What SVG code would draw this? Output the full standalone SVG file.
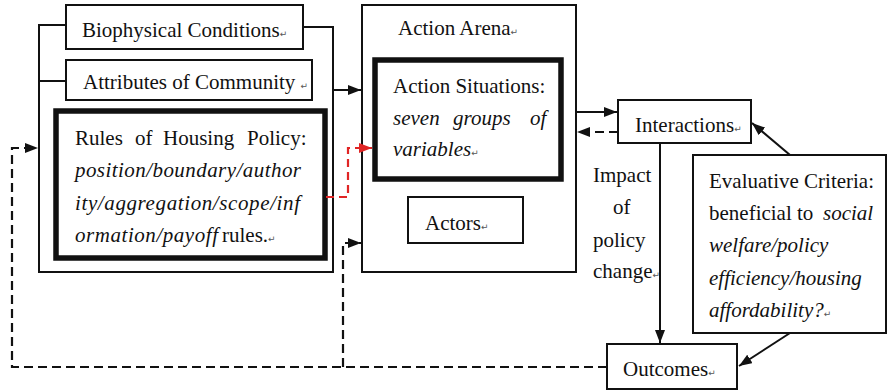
<svg xmlns="http://www.w3.org/2000/svg" width="889" height="392" viewBox="0 0 889 392">
<style>
.box{fill:#fff;stroke:#111;stroke-width:2}
.thick{fill:#fff;stroke:#111;stroke-width:5.5}
.ln{fill:none;stroke:#111;stroke-width:2}
.dash{fill:none;stroke:#111;stroke-width:2.2;stroke-dasharray:9 5}
.red{fill:none;stroke:#e02525;stroke-width:2.2;stroke-dasharray:8 5}
</style>
<defs>
<marker id="ah" markerUnits="userSpaceOnUse" markerWidth="14" markerHeight="10" refX="13" refY="5" orient="auto">
<path d="M0,0 L13,5 L0,10 z" fill="#111"/>
</marker>
<marker id="ahr" markerUnits="userSpaceOnUse" markerWidth="14" markerHeight="10" refX="13" refY="5" orient="auto">
<path d="M0,0 L13,5 L0,10 z" fill="#e02525"/>
</marker>
</defs>
<rect width="889" height="392" fill="#fff"/>

<g id="biophysical">
<rect class="box" x="66" y="5" width="237" height="44"/>
<text font-family="Liberation Serif" font-size="21" fill="#111" x="82" y="37">Biophysical Conditions<tspan font-family="DejaVu Sans" font-size="9" fill="#555">↵</tspan></text>
</g>

<g id="attributes">
<rect class="box" x="66" y="60" width="246" height="40"/>
<text font-family="Liberation Serif" font-size="21" fill="#111" x="83" y="89">Attributes of Community <tspan font-family="DejaVu Sans" font-size="9" fill="#555">↵</tspan></text>
</g>

<g id="rules">
<rect class="thick" x="56" y="111" width="269" height="147"/>
<text font-family="Liberation Serif" font-size="21" fill="#111" y="145"><tspan x="75">Rules</tspan><tspan x="135">of</tspan><tspan x="163">Housing</tspan><tspan x="247">Policy:</tspan></text>
<text font-family="Liberation Serif" font-size="21" fill="#111" font-style="italic" x="75" y="177" textLength="226" lengthAdjust="spacing">position/boundary/author</text>
<text font-family="Liberation Serif" font-size="21" fill="#111" font-style="italic" x="75" y="210" textLength="225" lengthAdjust="spacing">ity/aggregation/scope/inf</text>
<text font-family="Liberation Serif" font-size="21" fill="#111" y="242"><tspan font-style="italic" x="75" textLength="143" lengthAdjust="spacing">ormation/payoff</tspan><tspan x="222">rules.</tspan><tspan font-family="DejaVu Sans" font-size="9" fill="#555">↵</tspan></text>
</g>

<g id="action-arena">
<rect class="box" x="362" y="5" width="214" height="267"/>
<text font-family="Liberation Serif" font-size="21" fill="#111" x="398" y="35">Action Arena<tspan font-family="DejaVu Sans" font-size="9" fill="#555">↵</tspan></text>
</g>

<g id="action-situations">
<rect class="thick" x="375" y="60" width="186" height="119"/>
<text font-family="Liberation Serif" font-size="21" fill="#111" x="393" y="93">Action Situations:</text>
<text font-family="Liberation Serif" font-size="21" fill="#111" font-style="italic" y="125"><tspan x="393">seven</tspan><tspan x="453">groups</tspan><tspan x="530">of</tspan></text>
<text font-family="Liberation Serif" font-size="21" fill="#111" font-style="italic" x="393" y="156">variables<tspan font-family="DejaVu Sans" font-size="9" font-style="normal" fill="#555">↵</tspan></text>
</g>

<g id="actors">
<rect class="box" x="408" y="197" width="115" height="46"/>
<text font-family="Liberation Serif" font-size="21" fill="#111" x="425" y="230">Actors<tspan font-family="DejaVu Sans" font-size="9" fill="#555">↵</tspan></text>
</g>

<g id="interactions">
<rect class="box" x="618" y="100" width="133" height="43"/>
<text font-family="Liberation Serif" font-size="21" fill="#111" x="635" y="132">Interactions<tspan font-family="DejaVu Sans" font-size="9" fill="#555">↵</tspan></text>
</g>

<g id="impact-label">
<text font-family="Liberation Serif" font-size="21" fill="#111" x="593" y="182">Impact</text>
<text font-family="Liberation Serif" font-size="21" fill="#111" x="613" y="214">of</text>
<text font-family="Liberation Serif" font-size="21" fill="#111" x="593" y="247">policy</text>
<text font-family="Liberation Serif" font-size="21" fill="#111" x="593" y="278">change<tspan font-family="DejaVu Sans" font-size="9" fill="#555">↵</tspan></text>
</g>

<g id="evaluative-criteria">
<rect class="box" x="693" y="155" width="193" height="178"/>
<text font-family="Liberation Serif" font-size="21" fill="#111" x="709" y="188">Evaluative Criteria:</text>
<text font-family="Liberation Serif" font-size="21" fill="#111" y="220"><tspan x="709">beneficial to</tspan><tspan font-style="italic" x="823">social</tspan></text>
<text font-family="Liberation Serif" font-size="21" fill="#111" font-style="italic" x="709" y="252">welfare/policy</text>
<text font-family="Liberation Serif" font-size="21" fill="#111" font-style="italic" x="709" y="285">efficiency/housing</text>
<text font-family="Liberation Serif" font-size="21" fill="#111" font-style="italic" x="709" y="317">affordability?<tspan font-family="DejaVu Sans" font-size="9" font-style="normal" fill="#555">↵</tspan></text>
</g>

<g id="outcomes">
<rect class="box" x="607" y="344" width="130" height="45"/>
<text font-family="Liberation Serif" font-size="21" fill="#111" x="623" y="376">Outcomes<tspan font-family="DejaVu Sans" font-size="9" fill="#555">↵</tspan></text>
</g>

<g id="connectors">
<path class="ln" d="M66,25 H39 V272 H333 V27 H303"/>
<path class="ln" d="M39,81 H66"/>
<path class="ln" d="M333,90 H361" marker-end="url(#ah)"/>
<path class="ln" d="M576,112 H617" marker-end="url(#ah)"/>
<path class="dash" d="M618,132 H577" marker-end="url(#ah)"/>
<path class="ln" d="M660,143 V343" marker-end="url(#ah)"/>
<path class="ln" d="M790,155 L752,123" marker-end="url(#ah)"/>
<path class="ln" d="M790,333 L739,366" marker-end="url(#ah)"/>
<path class="dash" d="M607,367 H12 V148 H38" marker-end="url(#ah)"/>
<path class="dash" d="M343,367 V243 H361" marker-end="url(#ah)"/>
<path class="red" d="M326,197 H348 V148 H372" marker-end="url(#ahr)"/>
</g>
</svg>
